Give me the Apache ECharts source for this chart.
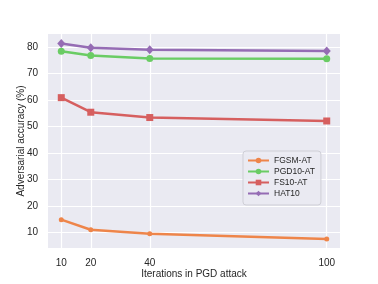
<!DOCTYPE html>
<html>
<head>
<meta charset="utf-8">
<script src="https://cdn.jsdelivr.net/npm/echarts@6/dist/echarts.min.js"></script>
<style>html,body{margin:0;padding:0;background:#fff}#c{width:378px;height:284px}</style>
</head>
<body>
<div id="c"></div>
<script>
const iterations = [10, 20, 40, 100];
const xTicks = [10, 20, 40, 100];
const yTicks = [10, 20, 30, 40, 50, 60, 70, 80];
const fgsmAT = [14.9, 11.1, 9.6, 7.6];
const pgd10AT = [78.4, 76.8, 75.7, 75.6];
const fs10AT = [60.9, 55.4, 53.4, 52.1];
const hat10 = [81.3, 79.7, 79.0, 78.5];

const FONT = '"Liberation Sans", Arial, sans-serif';
const TXT = '#262626';
const pair = arr => iterations.map((x, i) => [x, arr[i]]);

function mk(name, data, color, symbol, size) {
  return {
    name, type: 'line', data: pair(data), symbol, symbolSize: size,
    showSymbol: true, clip: false,
    lineStyle: { color, width: 2.5 },
    itemStyle: { color, borderWidth: 0 },
    emphasis: { disabled: true }, animation: false
  };
}

const chart = echarts.init(document.getElementById('c'), null, { renderer: 'canvas' });
chart.setOption({
  animation: false,
  backgroundColor: '#ffffff',
  textStyle: { fontFamily: FONT, color: TXT },
  grid: { left: 48, right: 38, top: 34, bottom: 32, show: true, backgroundColor: '#eaeaf2', borderWidth: 0, containLabel: false },
  xAxis: {
    type: 'value', min: 5.5, max: 104.5,
    name: 'Iterations in PGD attack', nameLocation: 'middle', nameGap: 21, nameMoveOverlap: false,
    nameTextStyle: { fontFamily: FONT, fontSize: 10, color: TXT },
    axisLine: { show: false },
    axisTick: { show: false, customValues: xTicks },
    axisLabel: { customValues: xTicks, fontFamily: FONT, fontSize: 10, color: TXT, margin: 10 },
    splitLine: { show: true, lineStyle: { color: '#ffffff', width: 1.2 } }
  },
  yAxis: {
    type: 'value', min: 4.2, max: 84.9,
    name: 'Adversarial accuracy (%)', nameLocation: 'middle', nameGap: 22, nameRotate: 90, nameMoveOverlap: false,
    nameTextStyle: { fontFamily: FONT, fontSize: 10, color: TXT },
    axisLine: { show: false },
    axisTick: { show: false, customValues: yTicks },
    axisLabel: { customValues: yTicks, fontFamily: FONT, fontSize: 10, color: TXT, margin: 10 },
    splitLine: { show: true, lineStyle: { color: '#ffffff', width: 1.2 } }
  },
  legend: {
    orient: 'vertical', left: 243, top: 151,
    itemWidth: 21, itemHeight: 7, itemGap: 2,
    padding: [5, 6, 7, 4],
    backgroundColor: 'rgba(234,234,242,0.85)', borderColor: '#cfcfd6', borderWidth: 1, borderRadius: 3,
    textStyle: { fontFamily: FONT, fontSize: 8.5, color: TXT },
    data: ['FGSM-AT', 'PGD10-AT', 'FS10-AT', 'HAT10']
  },
  series: [
    mk('FGSM-AT', fgsmAT, '#ee854a', 'circle', 5),
    mk('PGD10-AT', pgd10AT, '#6acc64', 'circle', 7),
    mk('FS10-AT', fs10AT, '#d65f5f', 'rect', 7),
    mk('HAT10', hat10, '#956cb4', 'diamond', [8, 9])
  ]
});
</script>
</body>
</html>
